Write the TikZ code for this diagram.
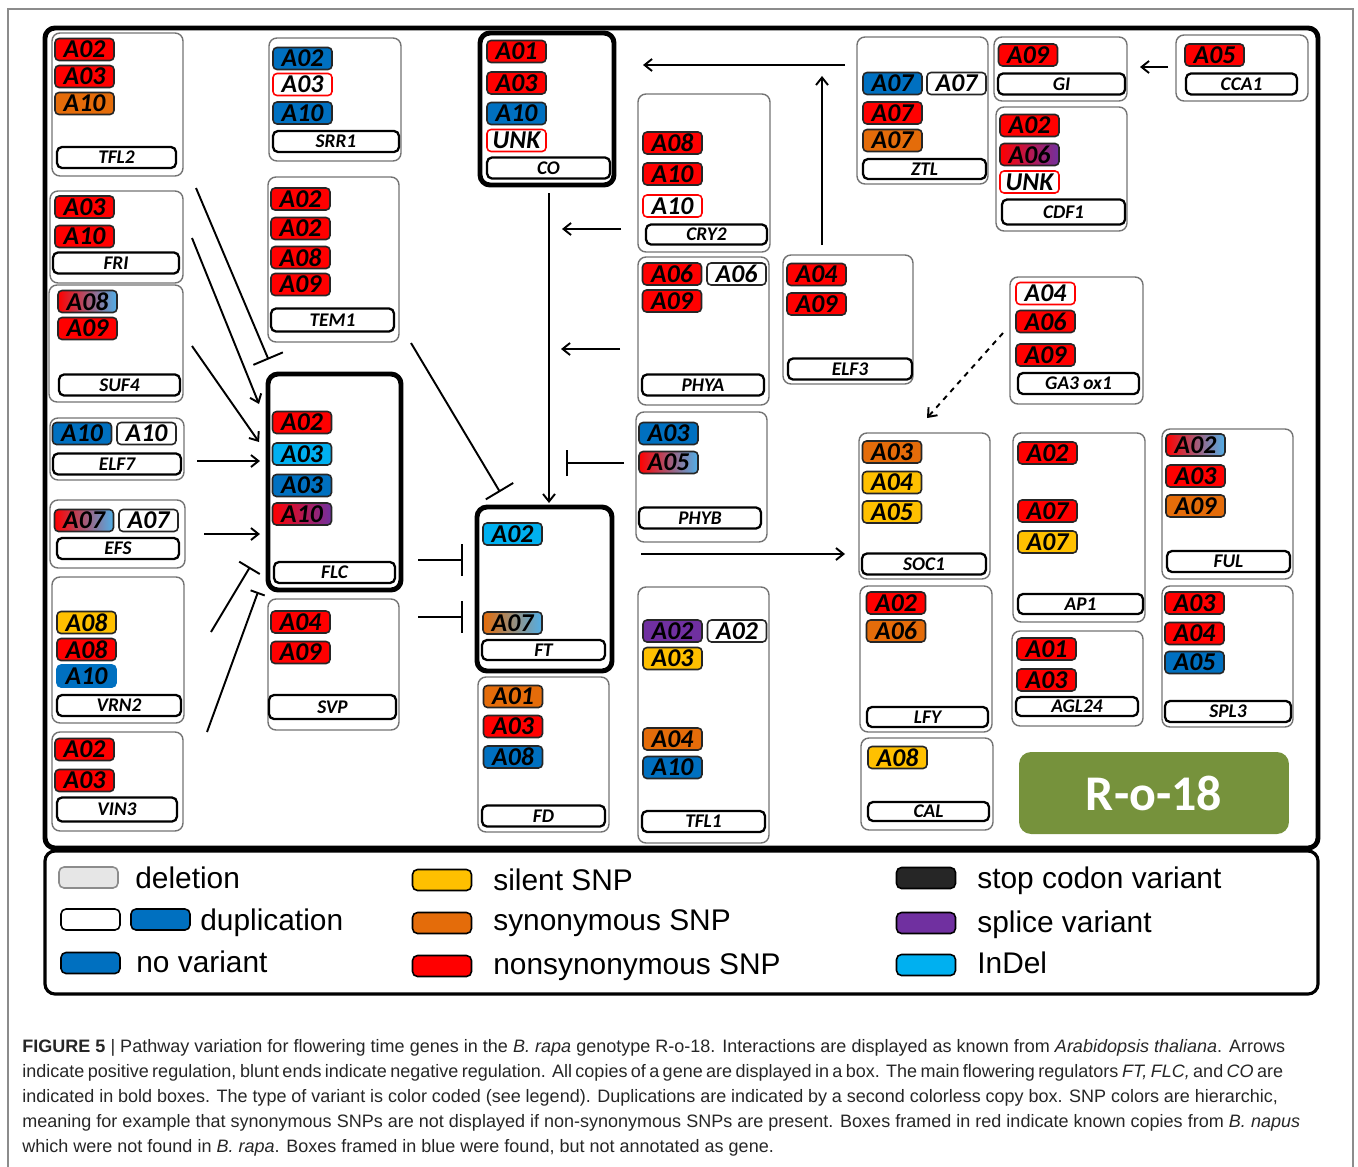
\documentclass[tikz,border=0pt]{standalone}
\usepackage{fontspec}
\setmainfont{Carlito}
\newfontfamily\capfont{Liberation Sans}
\usepackage{tikz}
\usetikzlibrary{calc,fit,arrows.meta}

\definecolor{nsred}{RGB}{255,0,0}
\definecolor{synor}{RGB}{228,108,10}
\definecolor{silyel}{RGB}{255,192,0}
\definecolor{novar}{RGB}{0,112,192}
\definecolor{indel}{RGB}{0,176,240}
\definecolor{splice}{RGB}{112,48,160}
\definecolor{stopblk}{RGB}{38,38,38}
\definecolor{delgr}{RGB}{230,230,230}
\definecolor{gradblu}{RGB}{80,175,232}
\definecolor{rogreen}{RGB}{118,146,60}

\begin{document}
\begin{tikzpicture}[x=0.02cm, y=-0.02cm,
    genebox/.style={draw=black!55, line width=0.8pt, rounded corners=0.16cm, inner sep=0pt},
    mainbox/.style={draw=black, line width=2.8pt, rounded corners=0.2cm, inner sep=0pt},
    tag/.style={draw=black!85, line width=0.9pt, rounded corners=0.08cm, minimum width=1.18cm,
        minimum height=0.44cm, inner sep=0pt, font=\fontsize{14.6}{15}\selectfont\bfseries\itshape},
    dupcopy/.style={tag, fill=white},
    lostcopy/.style={tag, draw=nsred, fill=white},
    namebox/.style={draw=black, line width=1.3pt, rounded corners=0.1cm, minimum width=2.44cm,
        minimum height=0.42cm, inner sep=0pt, fill=white, font=\fontsize{11}{12}\selectfont\bfseries\itshape},
    act/.style={line width=1.1pt, -{Straight Barb[length=0.15cm, width=0.24cm]}},
    inh/.style={line width=1.1pt, -{Bar[width=0.64cm]}},
    swatch/.style={draw=black, line width=0.9pt, rounded corners=0.1cm, minimum width=1.18cm,
        minimum height=0.42cm, inner sep=0pt},
    legtext/.style={anchor=base west, inner sep=0pt, font=\capfont\fontsize{17}{20}\selectfont},
    captext/.style={anchor=base west, inner sep=0pt, text=black!85, font=\capfont\fontsize{10.25}{12}\selectfont}]

    \useasboundingbox (0,0) rectangle (1358,1166);
    \node[draw=black!45, line width=0.6pt, inner sep=0pt, fit={(8,9) (1353,1190)}] (figframe) {};

    \node[mainbox, fit={(45,28) (1318,848)}] (diagram) {};
    \node[draw=black, line width=1.8pt, rounded corners=0.2cm, inner sep=0pt, fit={(45,851) (1318,994)}] (legend) {};

    % TFL2
    \node[genebox, fit={(52,33) (183,176)}] (tfl2) {};
    \node[tag, fill=nsred] (tfl2-a02) at (84.5,49.5) {A02};
    \node[tag, fill=nsred] (tfl2-a03) at (84.5,76.5) {A03};
    \node[tag, fill=synor] (tfl2-a10) at (84.5,103.5) {A10};
    \node[namebox, minimum width=2.38cm] (tfl2-name) at (116.5,157.5) {TFL2};

    % SRR1
    \node[genebox, fit={(269,38) (401,161)}] (srr1) {};
    \node[tag, fill=novar] (srr1-a02) at (302.5,58.5) {A02};
    \node[lostcopy] (srr1-a03) at (302.5,84.5) {A03};
    \node[tag, fill=novar] (srr1-a10) at (302.5,113) {A10};
    \node[namebox, minimum width=2.52cm] (srr1-name) at (336,141.5) {SRR1};

    % TEM1
    \node[genebox, fit={(268,177) (399,342)}] (tem1) {};
    \node[tag, fill=nsred] (tem1-a02) at (300.5,199) {A02};
    \node[tag, fill=nsred] (tem1-a02b) at (300.5,228.5) {A02};
    \node[tag, fill=nsred] (tem1-a08) at (300.5,257.5) {A08};
    \node[tag, fill=nsred] (tem1-a09) at (300.5,284.5) {A09};
    \node[namebox, minimum width=2.46cm, minimum height=0.46cm] (tem1-name) at (332.5,320) {TEM1};

    % FRI
    \node[genebox, fit={(50,191) (183,283)}] (fri) {};
    \node[tag, fill=nsred] (fri-a03) at (84.5,207) {A03};
    \node[tag, fill=nsred] (fri-a10) at (84.5,236.5) {A10};
    \node[namebox, minimum width=2.52cm] (fri-name) at (116,263) {FRI};

    % SUF4
    \node[genebox, fit={(49,285) (183,402)}] (suf4) {};
    \node[tag, left color=nsred, right color=gradblu] (suf4-a08) at (87.5,301.5) {A08};
    \node[tag, fill=nsred] (suf4-a09) at (87.5,328.5) {A09};
    \node[namebox, minimum width=2.42cm] (suf4-name) at (119.5,385) {SUF4};

    % ELF7
    \node[genebox, fit={(50,418) (184,480)}] (elf7) {};
    \node[tag, fill=novar] (elf7-a10) at (82,433.5) {A10};
    \node[dupcopy] (elf7-a10b) at (146.5,433.5) {A10};
    \node[namebox, minimum width=2.56cm] (elf7-name) at (117,464) {ELF7};

    % EFS
    \node[genebox, fit={(50,500) (185,568)}] (efs) {};
    \node[tag, left color=nsred, right color=gradblu] (efs-a07) at (84,520.5) {A07};
    \node[dupcopy] (efs-a07b) at (148.5,520.5) {A07};
    \node[namebox, minimum width=2.44cm] (efs-name) at (118,548.5) {EFS};

    % VRN2
    \node[genebox, fit={(52,577) (184,723)}] (vrn2) {};
    \node[tag, fill=silyel] (vrn2-a08) at (86.5,622.5) {A08};
    \node[tag, fill=nsred] (vrn2-a08b) at (86.5,649.5) {A08};
    \node[tag, fill=novar, draw=novar] (vrn2-a10) at (86.5,676) {A10};
    \node[namebox, minimum width=2.48cm] (vrn2-name) at (119,705.5) {VRN2};

    % VIN3
    \node[genebox, fit={(52,732) (183,831)}] (vin3) {};
    \node[tag, fill=nsred] (vin3-a02) at (84.5,749.5) {A02};
    \node[tag, fill=nsred] (vin3-a03) at (84.5,780.5) {A03};
    \node[namebox, minimum width=2.40cm, minimum height=0.48cm] (vin3-name) at (117,809.5) {VIN3};

    % FLC
    \node[mainbox, fit={(268,374) (401,590)}] (flc) {};
    \node[tag, fill=nsred] (flc-a02) at (302,422.5) {A02};
    \node[tag, fill=indel] (flc-a03) at (302,454) {A03};
    \node[tag, fill=novar] (flc-a03b) at (302,485.5) {A03};
    \node[tag, left color=nsred, right color=splice] (flc-a10) at (302,514) {A10};
    \node[namebox, minimum width=2.42cm] (flc-name) at (334.5,572.5) {FLC};

    % SVP
    \node[genebox, fit={(268,599) (399,730)}] (svp) {};
    \node[tag, fill=nsred] (svp-a04) at (300.5,622) {A04};
    \node[tag, fill=nsred] (svp-a09) at (300.5,652.5) {A09};
    \node[namebox, minimum width=2.54cm, minimum height=0.48cm] (svp-name) at (332.5,707) {SVP};

    % CO
    \node[mainbox, fit={(480,33) (614,185)}] (co) {};
    \node[tag, fill=nsred] (co-a01) at (516.5,51.5) {A01};
    \node[tag, fill=nsred] (co-a03) at (516.5,83) {A03};
    \node[tag, fill=novar] (co-a10) at (516.5,113.5) {A10};
    \node[lostcopy] (co-unk) at (516.5,140.5) {UNK};
    \node[namebox, minimum width=2.46cm] (co-name) at (548.5,168) {CO};

    % CRY2
    \node[genebox, fit={(638,94) (770,252)}] (cry2) {};
    \node[tag, fill=nsred] (cry2-a08) at (672.5,143) {A08};
    \node[tag, fill=nsred] (cry2-a10) at (672.5,174) {A10};
    \node[lostcopy] (cry2-a10b) at (672.5,206) {A10};
    \node[namebox, minimum width=2.42cm, minimum height=0.40cm] (cry2-name) at (706.5,234.5) {CRY2};

    % PHYA
    \node[genebox, fit={(638,257) (769,405)}] (phya) {};
    \node[tag, fill=nsred] (phya-a06) at (672,274) {A06};
    \node[dupcopy] (phya-a06b) at (736.5,274) {A06};
    \node[tag, fill=nsred] (phya-a09) at (672,301) {A09};
    \node[namebox, minimum width=2.44cm] (phya-name) at (703,385) {PHYA};

    % PHYB
    \node[genebox, fit={(636,412) (767,542)}] (phyb) {};
    \node[tag, fill=novar] (phyb-a03) at (668.5,433.5) {A03};
    \node[tag, left color=nsred, right color=gradblu] (phyb-a05) at (668.5,462.5) {A05};
    \node[namebox, minimum width=2.44cm] (phyb-name) at (700,518) {PHYB};

    % FT
    \node[mainbox, fit={(477,507) (612,671)}] (ft) {};
    \node[tag, fill=indel] (ft-a02) at (512.5,534) {A02};
    \node[tag, left color=synor, right color=gradblu] (ft-a07) at (512.5,623) {A07};
    \node[namebox, minimum width=2.46cm, minimum height=0.40cm] (ft-name) at (543.5,650) {FT};

    % FD
    \node[genebox, fit={(478,677) (609,832)}] (fd) {};
    \node[tag, fill=synor] (fd-a01) at (513,696.5) {A01};
    \node[tag, fill=nsred] (fd-a03) at (513,726.5) {A03};
    \node[tag, fill=novar] (fd-a08) at (513,757) {A08};
    \node[namebox, minimum width=2.46cm] (fd-name) at (543.5,816) {FD};

    % TFL1
    \node[genebox, fit={(638,587) (769,843)}] (tfl1) {};
    \node[tag, fill=splice] (tfl1-a02) at (672.5,631) {A02};
    \node[dupcopy] (tfl1-a02b) at (737,631) {A02};
    \node[tag, fill=silyel] (tfl1-a03) at (672.5,658.5) {A03};
    \node[tag, fill=synor] (tfl1-a04) at (672.5,739) {A04};
    \node[tag, fill=novar] (tfl1-a10) at (672.5,767.5) {A10};
    \node[namebox, minimum width=2.46cm] (tfl1-name) at (703.5,821.5) {TFL1};

    % ELF3
    \node[genebox, fit={(783,255) (913,384)}] (elf3) {};
    \node[tag, fill=nsred] (elf3-a04) at (816.5,274.5) {A04};
    \node[tag, fill=nsred] (elf3-a09) at (816.5,304) {A09};
    \node[namebox, minimum width=2.48cm] (elf3-name) at (850,369) {ELF3};

    % ZTL
    \node[genebox, fit={(857,37) (988,184)}] (ztl) {};
    \node[tag, fill=novar] (ztl-a07) at (892.5,83.5) {A07};
    \node[dupcopy] (ztl-a07b) at (956.5,83.5) {A07};
    \node[tag, fill=nsred] (ztl-a07c) at (892.5,113) {A07};
    \node[tag, fill=synor] (ztl-a07d) at (892.5,140.5) {A07};
    \node[namebox, minimum width=2.46cm, minimum height=0.40cm] (ztl-name) at (924.5,169) {ZTL};

    % GI
    \node[genebox, fit={(994,37) (1127,101)}] (gi) {};
    \node[tag, fill=nsred] (gi-a09) at (1028,55) {A09};
    \node[namebox, minimum width=2.54cm] (gi-name) at (1061.5,84) {GI};

    % CDF1
    \node[genebox, fit={(996,107) (1127,231)}] (cdf1) {};
    \node[tag, fill=nsred] (cdf1-a02) at (1029.5,125.5) {A02};
    \node[tag, left color=nsred, right color=splice] (cdf1-a06) at (1029.5,154.5) {A06};
    \node[lostcopy] (cdf1-unk) at (1029.5,182) {UNK};
    \node[namebox, minimum width=2.46cm, minimum height=0.50cm] (cdf1-name) at (1063.5,212) {CDF1};

    % CCA1
    \node[genebox, fit={(1176,35) (1308,101)}] (cca1) {};
    \node[tag, fill=nsred] (cca1-a05) at (1214.5,55) {A05};
    \node[namebox, minimum width=2.22cm] (cca1-name) at (1241.5,84) {CCA1};

    % GA3 ox1
    \node[genebox, fit={(1010,277) (1143,404)}] (ga3ox1) {};
    \node[lostcopy] (ga3ox1-a04) at (1045.5,293.5) {A04};
    \node[tag, fill=nsred] (ga3ox1-a06) at (1045.5,321.5) {A06};
    \node[tag, fill=nsred] (ga3ox1-a09) at (1045.5,355) {A09};
    \node[namebox, minimum width=2.42cm] (ga3ox1-name) at (1078.5,383.5) {GA3 ox1};

    % SOC1
    \node[genebox, fit={(859,433) (990,579)}] (soc1) {};
    \node[tag, fill=synor] (soc1-a03) at (892,452) {A03};
    \node[tag, fill=silyel] (soc1-a04) at (892,482.5) {A04};
    \node[tag, fill=silyel] (soc1-a05) at (892,512) {A05};
    \node[namebox, minimum width=2.48cm] (soc1-name) at (924,564) {SOC1};

    % AP1
    \node[genebox, fit={(1013,433) (1145,622)}] (ap1) {};
    \node[tag, fill=nsred] (ap1-a02) at (1047.5,453) {A02};
    \node[tag, fill=nsred] (ap1-a07) at (1047.5,511) {A07};
    \node[tag, fill=silyel] (ap1-a07b) at (1047.5,542) {A07};
    \node[namebox, minimum width=2.50cm, minimum height=0.40cm] (ap1-name) at (1080.5,604) {AP1};

    % FUL
    \node[genebox, fit={(1162,429) (1293,579)}] (ful) {};
    \node[tag, left color=nsred, right color=gradblu] (ful-a02) at (1195.5,445) {A02};
    \node[tag, fill=nsred] (ful-a03) at (1195.5,476) {A03};
    \node[tag, fill=synor] (ful-a09) at (1195.5,506) {A09};
    \node[namebox, minimum width=2.46cm] (ful-name) at (1228.5,561.5) {FUL};

    % LFY
    \node[genebox, fit={(860,586) (992,732)}] (lfy) {};
    \node[tag, fill=nsred] (lfy-a02) at (896,603) {A02};
    \node[tag, fill=synor] (lfy-a06) at (896,631) {A06};
    \node[namebox, minimum width=2.42cm, minimum height=0.40cm] (lfy-name) at (927.5,717) {LFY};

    % AGL24
    \node[genebox, fit={(1012,631) (1143,726)}] (agl24) {};
    \node[tag, fill=nsred] (agl24-a01) at (1046.5,649) {A01};
    \node[tag, fill=nsred] (agl24-a03) at (1046.5,680) {A03};
    \node[namebox, minimum width=2.44cm, minimum height=0.38cm] (agl24-name) at (1077,706.5) {AGL24};

    % SPL3
    \node[genebox, fit={(1162,586) (1293,727)}] (spl3) {};
    \node[tag, fill=nsred] (spl3-a03) at (1194.5,603) {A03};
    \node[tag, fill=nsred] (spl3-a04) at (1194.5,633.5) {A04};
    \node[tag, fill=novar] (spl3-a05) at (1194.5,662.5) {A05};
    \node[namebox, minimum width=2.52cm] (spl3-name) at (1228,711.5) {SPL3};

    % CAL
    \node[genebox, fit={(861,738) (993,830)}] (cal) {};
    \node[tag, fill=silyel] (cal-a08) at (897.5,757.5) {A08};
    \node[namebox, minimum width=2.42cm, minimum height=0.38cm] (cal-name) at (928.5,811.5) {CAL};

    % genotype
    \node[fill=rogreen, rounded corners=0.24cm, minimum width=5.4cm, minimum height=1.64cm, text=white,
        font=\fontsize{28.4}{30}\selectfont\bfseries] (geno) at (1154,793) {R-o-18};

    % connector ends
    \coordinate (tfl2-o) at (196,188);
    \coordinate (flc-i1) at (268.5,359.5);
    \coordinate (fri-o) at (192,238);
    \coordinate (flc-i2) at (259,404);
    \coordinate (suf4-o) at (192,346);
    \coordinate (flc-i3) at (259,442);
    \coordinate (elf7-o) at (197,461);
    \coordinate (flc-i4) at (260,461);
    \coordinate (efs-o) at (204,534);
    \coordinate (flc-i5) at (260,534);
    \coordinate (vrn2-o) at (211,632);
    \coordinate (flc-i6) at (250,567);
    \coordinate (vin3-o) at (207,732);
    \coordinate (flc-i7) at (258,592);
    \coordinate (tem1-o) at (411,343);
    \coordinate (ft-i1) at (500,492);
    \coordinate (flc-o) at (418,560);
    \coordinate (ft-i2) at (463,560);
    \coordinate (svp-o) at (418,617);
    \coordinate (ft-i3) at (463,617);
    \coordinate (co-o) at (549,193);
    \coordinate (ft-i4) at (549,503);
    \coordinate (cry2-o) at (621,229);
    \coordinate (co-i1) at (562,229);
    \coordinate (phya-o) at (620,349);
    \coordinate (co-i2) at (561,349);
    \coordinate (phyb-o) at (624,463);
    \coordinate (co-i3) at (566,463);
    \coordinate (ft-o) at (641,554);
    \coordinate (soc1-i) at (845,554);
    \coordinate (ztl-o) at (845,65);
    \coordinate (co-i4) at (643,65);
    \coordinate (elf3-o) at (822,245);
    \coordinate (ztl-i) at (822,76);
    \coordinate (cca1-o) at (1168,67);
    \coordinate (gi-i) at (1140,67);
    \coordinate (ga3ox1-o) at (1003,333);
    \coordinate (soc1-i2) at (927,418);

    \draw[inh] (tfl2-o) -- (flc-i1);
    \draw[act] (fri-o) -- (flc-i2);
    \draw[act] (suf4-o) -- (flc-i3);
    \draw[act] (elf7-o) -- (flc-i4);
    \draw[act] (efs-o) -- (flc-i5);
    \draw[inh, -{Bar[width=0.48cm]}] (vrn2-o) -- (flc-i6);
    \draw[inh, -{Bar[width=0.3cm]}] (vin3-o) -- (flc-i7);
    \draw[inh] (tem1-o) -- (ft-i1);
    \draw[inh] (flc-o) -- (ft-i2);
    \draw[inh] (svp-o) -- (ft-i3);
    \draw[act] (co-o) -- (ft-i4);
    \draw[act] (cry2-o) -- (co-i1);
    \draw[act] (phya-o) -- (co-i2);
    \draw[inh, -{Bar[width=0.52cm]}] (phyb-o) -- (co-i3);
    \draw[act] (ft-o) -- (soc1-i);
    \draw[act] (ztl-o) -- (co-i4);
    \draw[act] (elf3-o) -- (ztl-i);
    \draw[act] (cca1-o) -- (gi-i);
    \draw[act, dashed] (ga3ox1-o) -- (soc1-i2);

    % legend
    \node[swatch, fill=delgr, draw=black!45] (leg-del) at (88.5,877.5) {};
    \node[swatch, fill=white] (leg-dup1) at (90.5,919.5) {};
    \node[swatch, fill=novar] (leg-dup2) at (160.5,919.5) {};
    \node[swatch, fill=novar] (leg-nov) at (90.5,963) {};
    \node[swatch, fill=silyel] (leg-sil) at (442,880) {};
    \node[swatch, fill=synor] (leg-syn) at (442,923) {};
    \node[swatch, fill=nsred] (leg-nsy) at (442,966) {};
    \node[swatch, fill=stopblk] (leg-stop) at (926,878) {};
    \node[swatch, fill=splice] (leg-spl) at (926,923) {};
    \node[swatch, fill=indel] (leg-ind) at (926,965) {};
    \node[legtext] (leg-del-t) at (135,888) {deletion};
    \node[legtext] (leg-dup-t) at (200,930) {duplication};
    \node[legtext] (leg-nov-t) at (136,972) {no variant};
    \node[legtext] (leg-sil-t) at (493,890) {silent SNP};
    \node[legtext] (leg-syn-t) at (493,930) {synonymous SNP};
    \node[legtext] (leg-nsy-t) at (493,974) {nonsynonymous SNP};
    \node[legtext] (leg-stop-t) at (977,888) {stop codon variant};
    \node[legtext] (leg-spl-t) at (977,932) {splice variant};
    \node[legtext] (leg-ind-t) at (977,973) {InDel};

    % caption
    \node[captext] (cap1) at (22,1052) {\makebox[25.26cm][s]{\textbf{FIGURE 5} | Pathway variation for flowering time genes in the \textit{B. rapa} genotype R-o-18. Interactions are displayed as known from \textit{Arabidopsis thaliana}. Arrows}};
    \node[captext] (cap2) at (22,1077) {\makebox[25.22cm][s]{indicate positive regulation, blunt ends indicate negative regulation. All copies of a gene are displayed in a box. The main flowering regulators \textit{FT, FLC,} and \textit{CO} are}};
    \node[captext] (cap3) at (22,1102) {\makebox[25.12cm][s]{indicated in bold boxes. The type of variant is color coded (see legend). Duplications are indicated by a second colorless copy box. SNP colors are hierarchic,}};
    \node[captext] (cap4) at (22,1127) {\makebox[25.56cm][s]{meaning for example that synonymous SNPs are not displayed if non-synonymous SNPs are present. Boxes framed in red indicate known copies from \textit{B. napus}}};
    \node[captext] (cap5) at (22,1152) {which were not found in \textit{B. rapa}. Boxes framed in blue were found, but not annotated as gene.};

\end{tikzpicture}
\end{document}
